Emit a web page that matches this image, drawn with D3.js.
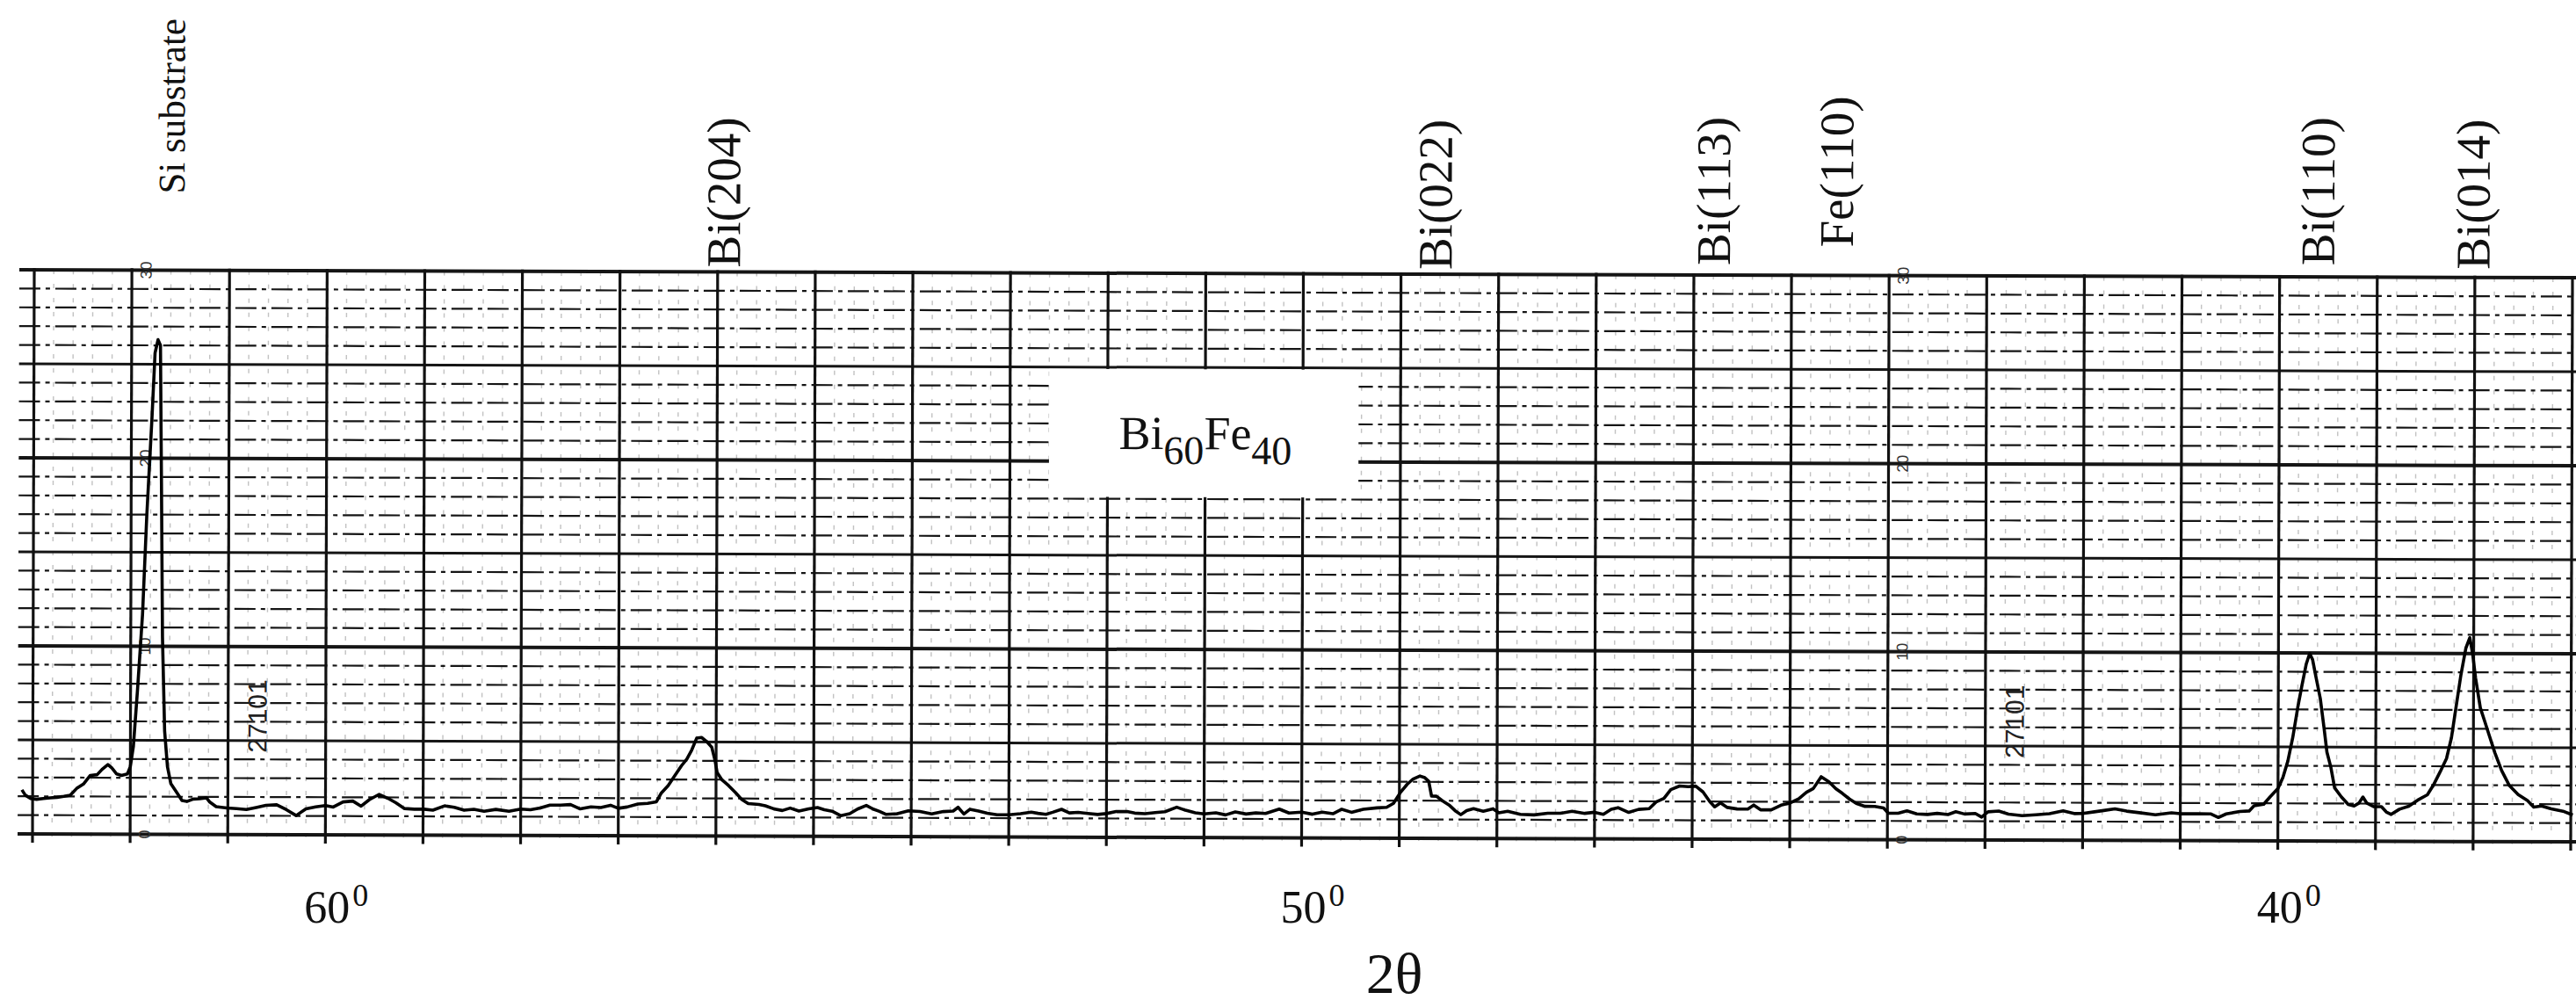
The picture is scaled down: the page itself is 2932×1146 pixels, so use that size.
<!DOCTYPE html>
<html>
<head>
<meta charset="utf-8">
<script src="https://cdn.jsdelivr.net/npm/d3@7"></script>
<style>
  html, body { margin: 0; padding: 0; background: #fff; }
  svg { display: block; }
  text { font-family: "Liberation Serif", "Times New Roman", serif; fill: #111; }
</style>
</head>
<body>
<svg id="xrd" width="2932" height="1146"></svg>
<script>
(function(){
    // 2θ (degrees), high angle on the left
    const twoTheta = [
        63.11, 63.075, 63.02, 62.96, 62.89, 62.82, 62.75, 62.68, 62.615, 62.55,
        62.48, 62.41, 62.34, 62.29, 62.23, 62.19, 62.14, 62.09, 62.03, 62.0,
        61.97, 61.93, 61.88, 61.84, 61.79, 61.76, 61.73, 61.705, 61.69, 61.675,
        61.65, 61.62, 61.585, 61.52, 61.47, 61.42, 61.355, 61.29, 61.22, 61.185,
        61.12, 61.01, 60.91, 60.81, 60.71, 60.61, 60.50, 60.40, 60.30, 60.20,
        60.10, 60.0, 59.92, 59.82, 59.72, 59.635, 59.55, 59.45, 59.36, 59.28,
        59.19, 59.09, 58.99, 58.90, 58.78, 58.68, 58.58, 58.48, 58.375, 58.255,
        58.12, 58.0,
        57.90, 57.80, 57.70, 57.59, 57.49, 57.39, 57.28, 57.18, 57.08, 57.0,
        56.91, 56.80, 56.70, 56.61, 56.56, 56.49, 56.42, 56.355, 56.30, 56.25,
        56.20, 56.15, 56.10, 56.045, 56.01, 55.99, 55.94, 55.87, 55.80, 55.74,
        55.67, 55.56, 55.495, 55.41, 55.32, 55.24, 55.15, 55.05, 54.96, 54.89,
        54.81, 54.72, 54.63, 54.55, 54.46, 54.39, 54.325, 54.256, 54.15, 54.03,
        53.91, 53.79, 53.67, 53.57, 53.52, 53.46, 53.40, 53.31, 53.22, 53.12,
        53.0, 52.88,
        52.77, 52.70, 52.62, 52.55, 52.46, 52.38, 52.29, 52.19, 52.09, 52.0,
        51.90, 51.79, 51.71, 51.605, 51.50, 51.40, 51.28, 51.19, 51.09, 51.0,
        50.88, 50.78, 50.68, 50.57, 50.47, 50.37, 50.23, 50.13, 50.0, 49.89,
        49.79, 49.68, 49.59, 49.49, 49.37, 49.23, 49.13, 49.06, 48.99, 48.92,
        48.86, 48.79, 48.74, 48.70, 48.67, 48.62, 48.56, 48.49, 48.43, 48.37,
        48.31, 48.24, 48.14, 48.04, 47.98, 47.89, 47.76, 47.62, 47.48,
        47.35, 47.23, 47.10, 47.0, 46.91, 46.83, 46.76, 46.65, 46.55, 46.44,
        46.37, 46.29, 46.22, 46.13, 46.04, 45.965, 45.89, 45.82, 45.77, 45.71,
        45.64, 45.54, 45.43, 45.37, 45.30, 45.19, 45.09, 45.0, 44.91, 44.83,
        44.76, 44.68, 44.60, 44.53, 44.46, 44.39, 44.32, 44.23, 44.13, 44.04,
        43.99, 43.89, 43.80, 43.70, 43.59, 43.49, 43.38, 43.30, 43.21, 43.10,
        43.035, 42.97, 42.86, 42.76, 42.62, 42.48, 42.34, 42.20, 42.08,
        42.0, 41.88, 41.785, 41.67, 41.55, 41.42, 41.255, 41.09, 41.0, 40.82,
        40.69, 40.61, 40.53, 40.39, 40.295, 40.245, 40.146, 40.08, 40.0, 39.95,
        39.90, 39.85, 39.80, 39.76, 39.715, 39.68, 39.65, 39.62, 39.57, 39.53,
        39.50, 39.46, 39.42, 39.35, 39.28, 39.22, 39.17, 39.13, 39.09, 39.02,
        38.94, 38.89, 38.84, 38.755, 38.66, 38.57, 38.47, 38.41, 38.34, 38.275,
        38.225, 38.18, 38.13, 38.08, 38.04, 38.01, 37.98, 37.93, 37.88, 37.84,
        37.78, 37.71, 37.63, 37.54, 37.445, 37.38, 37.30, 37.20, 37.08, 36.98
    ];

    // pen height in chart divisions (0 = bottom line, 30 = top line)
    const counts = [
        2.34, 2.06, 1.88, 1.84, 1.88, 1.92, 1.95, 2.0, 2.06, 2.42,
        2.66, 3.12, 3.16, 3.44, 3.70, 3.52, 3.20, 3.12, 3.2, 3.6,
        4.65, 7.6, 11.7, 16.9, 22.1, 25.6, 26.3, 26.0, 18.5, 10.5,
        5.5, 3.6, 2.7, 2.2, 1.80, 1.75, 1.88, 1.90, 1.95, 1.72,
        1.48, 1.41, 1.38, 1.33, 1.44, 1.56, 1.59, 1.33, 1.02, 1.38,
        1.48, 1.56, 1.48, 1.75, 1.80, 1.53, 1.88, 2.16, 1.95, 1.72,
        1.41, 1.38, 1.38, 1.33, 1.56, 1.48, 1.33, 1.38, 1.28, 1.38,
        1.28, 1.40,
        1.37, 1.46, 1.62, 1.62, 1.65, 1.42, 1.53, 1.50, 1.62, 1.46,
        1.53, 1.69, 1.73, 1.81, 2.28, 2.68, 3.23, 3.73, 4.09, 4.57,
        5.2, 5.24, 5.04, 4.72, 4.0, 3.39, 2.99, 2.68, 2.31, 1.97,
        1.73, 1.69, 1.62, 1.46, 1.37, 1.50, 1.34, 1.46, 1.53, 1.42,
        1.34, 1.10, 1.21, 1.46, 1.65, 1.46, 1.34, 1.18, 1.21, 1.37,
        1.34, 1.21, 1.34, 1.37, 1.57, 1.21, 1.46, 1.37, 1.26, 1.18,
        1.18, 1.24,
        1.32, 1.26, 1.21, 1.32, 1.48, 1.29, 1.32, 1.26, 1.21, 1.26,
        1.37, 1.37, 1.29, 1.26, 1.32, 1.37, 1.61, 1.45, 1.32, 1.26,
        1.32, 1.21, 1.37, 1.26, 1.32, 1.29, 1.53, 1.32, 1.37, 1.26,
        1.37, 1.29, 1.53, 1.37, 1.53, 1.61, 1.64, 1.85, 2.43, 2.87,
        3.15, 3.31, 3.22, 3.03, 2.24, 2.24, 2.0, 1.77, 1.48, 1.26,
        1.48, 1.58, 1.45, 1.58, 1.37, 1.45, 1.29, 1.26, 1.35,
        1.35, 1.46, 1.35, 1.41, 1.30, 1.57, 1.66, 1.41, 1.57, 1.61,
        1.97, 2.16, 2.63, 2.82, 2.79, 2.82, 2.51, 2.0, 1.72, 1.93,
        1.69, 1.61, 1.61, 1.82, 1.57, 1.57, 1.82, 1.93, 2.16, 2.51,
        2.71, 3.34, 3.07, 2.71, 2.45, 2.16, 1.93, 1.77, 1.77, 1.69,
        1.41, 1.41, 1.54, 1.38, 1.35, 1.41, 1.35, 1.50, 1.38, 1.41,
        1.22, 1.50, 1.54, 1.38, 1.30, 1.35, 1.41, 1.57, 1.42,
        1.43, 1.52, 1.59, 1.68, 1.56, 1.48, 1.37, 1.48, 1.43, 1.43,
        1.43, 1.24, 1.43, 1.56, 1.59, 1.87, 1.95, 2.35, 2.79, 3.38,
        4.25, 5.52, 7.11, 8.22, 9.41, 9.97, 9.65, 8.86, 7.59, 6.0,
        4.73, 3.94, 2.83, 2.35, 1.95, 1.87, 2.03, 2.35, 2.03, 1.84,
        1.84, 1.56, 1.43, 1.71, 1.87, 2.19, 2.48, 2.98, 3.70, 4.41,
        5.52, 7.11, 8.86, 10.29, 10.84, 9.97, 8.70, 7.11, 6.32, 5.68,
        4.73, 3.78, 2.98, 2.51, 2.19, 1.84, 1.90, 1.75, 1.63, 1.43
    ];

    // peak labels and where they sit on the 2θ axis
    const peakNames = ["Si substrate", "Bi(204)", "Bi(022)", "Bi(113)", "Fe(110)", "Bi(110)", "Bi(014)"];
    const peakAt    = [61.58, 55.92, 48.63, 45.78, 44.52, 39.59, 38.0];

    const axisTicks = [60, 50, 40];
    const paperNums = [0, 10, 20, 30];     // numbers printed on the chart paper
    const paperCols = [62, 44];             // columns where the paper carries them

    const svg = d3.select("#xrd");
    svg.append("rect").attr("width", 2932).attr("height", 1146).attr("fill", "#fff");

    const x = d3.scaleLinear().domain([63, 37]).range([37, 2926]);
    const y = d3.scaleLinear().domain([0, 30]).range([949, 307]);

    // the scan is a little tilted: right side sits lower
    const g = svg.append("g").attr("transform", "rotate(0.18,37,949)");

    // faint 0.2° rulings
    const fine = d3.range(37, 63.01, 0.2).filter(t => Math.abs(t - Math.round(t)) > 0.05);
    g.append("g").selectAll("line").data(fine).enter().append("line")
        .attr("x1", d => x(d)).attr("x2", d => x(d))
        .attr("y1", y(30)).attr("y2", y(0) + 8)
        .attr("stroke", "#9a9a9a").attr("stroke-width", 1.4)
        .attr("stroke-dasharray", "5,11").attr("opacity", 0.6);

    // horizontal rulings: every division dashed, every 5 solid, every 10 heavy
    g.append("g").selectAll("line").data(d3.range(0, 31)).enter().append("line")
        .attr("x1", 20).attr("x2", 2940)
        .attr("y1", d => y(d)).attr("y2", d => y(d))
        .attr("stroke", "#151515")
        .attr("stroke-width", d => d % 10 === 0 ? 4 : d % 5 === 0 ? 3 : 2.2)
        .attr("stroke-dasharray", d => d % 5 === 0 ? null : "24,6,5,6");

    // 1° vertical rulings
    g.append("g").selectAll("line").data(d3.range(37, 64)).enter().append("line")
        .attr("x1", d => x(d)).attr("x2", d => x(d))
        .attr("y1", y(30) - 2).attr("y2", y(0) + 10)
        .attr("stroke", "#111").attr("stroke-width", 3.2);

    // sample name box pasted over the grid
    g.append("rect")
        .attr("x", x(52.6)).attr("y", y(24.9))
        .attr("width", x(49.43) - x(52.6)).attr("height", y(18.1) - y(24.9))
        .attr("fill", "#fff");
    const name = g.append("text").attr("x", 1272).attr("y", 507).attr("font-size", 54);
    name.append("tspan").text("Bi");
    name.append("tspan").attr("dy", 17).attr("font-size", 46).text("60");
    name.append("tspan").attr("dy", -17).text("Fe");
    name.append("tspan").attr("dy", 17).attr("font-size", 46).text("40");

    // chart paper print
    paperCols.forEach(c => {
        g.append("g").selectAll("text").data(paperNums).enter().append("text")
            .attr("transform", d => `translate(${x(c) + 16},${y(d)}) rotate(-90)`)
            .attr("text-anchor", "middle").attr("dy", "0.35em")
            .style("font-family", "'Liberation Sans', sans-serif")
            .attr("font-size", 18).style("fill", "#333")
            .text(d => d);
        g.append("text")
            .attr("transform", `translate(${x(c - 1.3)},${y(6.3)}) rotate(-90)`)
            .attr("text-anchor", "middle").attr("dy", "0.35em")
            .style("font-family", "'Liberation Sans', sans-serif")
            .attr("font-size", 30).style("fill", "#222")
            .text("27101");
    });

    // recorder trace
    const pts = twoTheta.map((t, i) => [t, counts[i]]);
    const line = d3.line().x(d => x(d[0])).y(d => y(d[1])).curve(d3.curveLinear);
    g.append("path").datum(pts)
        .attr("d", line)
        .attr("fill", "none").attr("stroke", "#000")
        .attr("stroke-width", 3.6).attr("stroke-linejoin", "round");

    // peak labels, rotated
    const lift = { "Si substrate": 82, "Bi(113)": 6, "Fe(110)": 27, "Bi(110)": 8, "Bi(014)": 4 };
    g.append("g").selectAll("text").data(peakNames).enter().append("text")
        .attr("transform", (d, i) => `translate(${x(peakAt[i])},${302 - (lift[d] || 0)}) rotate(-90)`)
        .attr("dy", "0.3em")
        .attr("font-size", d => d === "Si substrate" ? 43 : 55)
        .text(d => d);

    // axis numbers with small superscript zero
    const ax = svg.append("g").selectAll("text").data(axisTicks).enter().append("text")
        .attr("x", d => x(d) - 24).attr("y", 1050).attr("font-size", 52);
    ax.append("tspan").text(d => d);
    ax.append("tspan").attr("dx", 3).attr("dy", -19).attr("font-size", 36).text("0");

    svg.append("text").attr("x", x(49.05)).attr("y", 1130)
        .attr("text-anchor", "middle").attr("font-size", 66).text("2θ");
})();
</script>
</body>
</html>
